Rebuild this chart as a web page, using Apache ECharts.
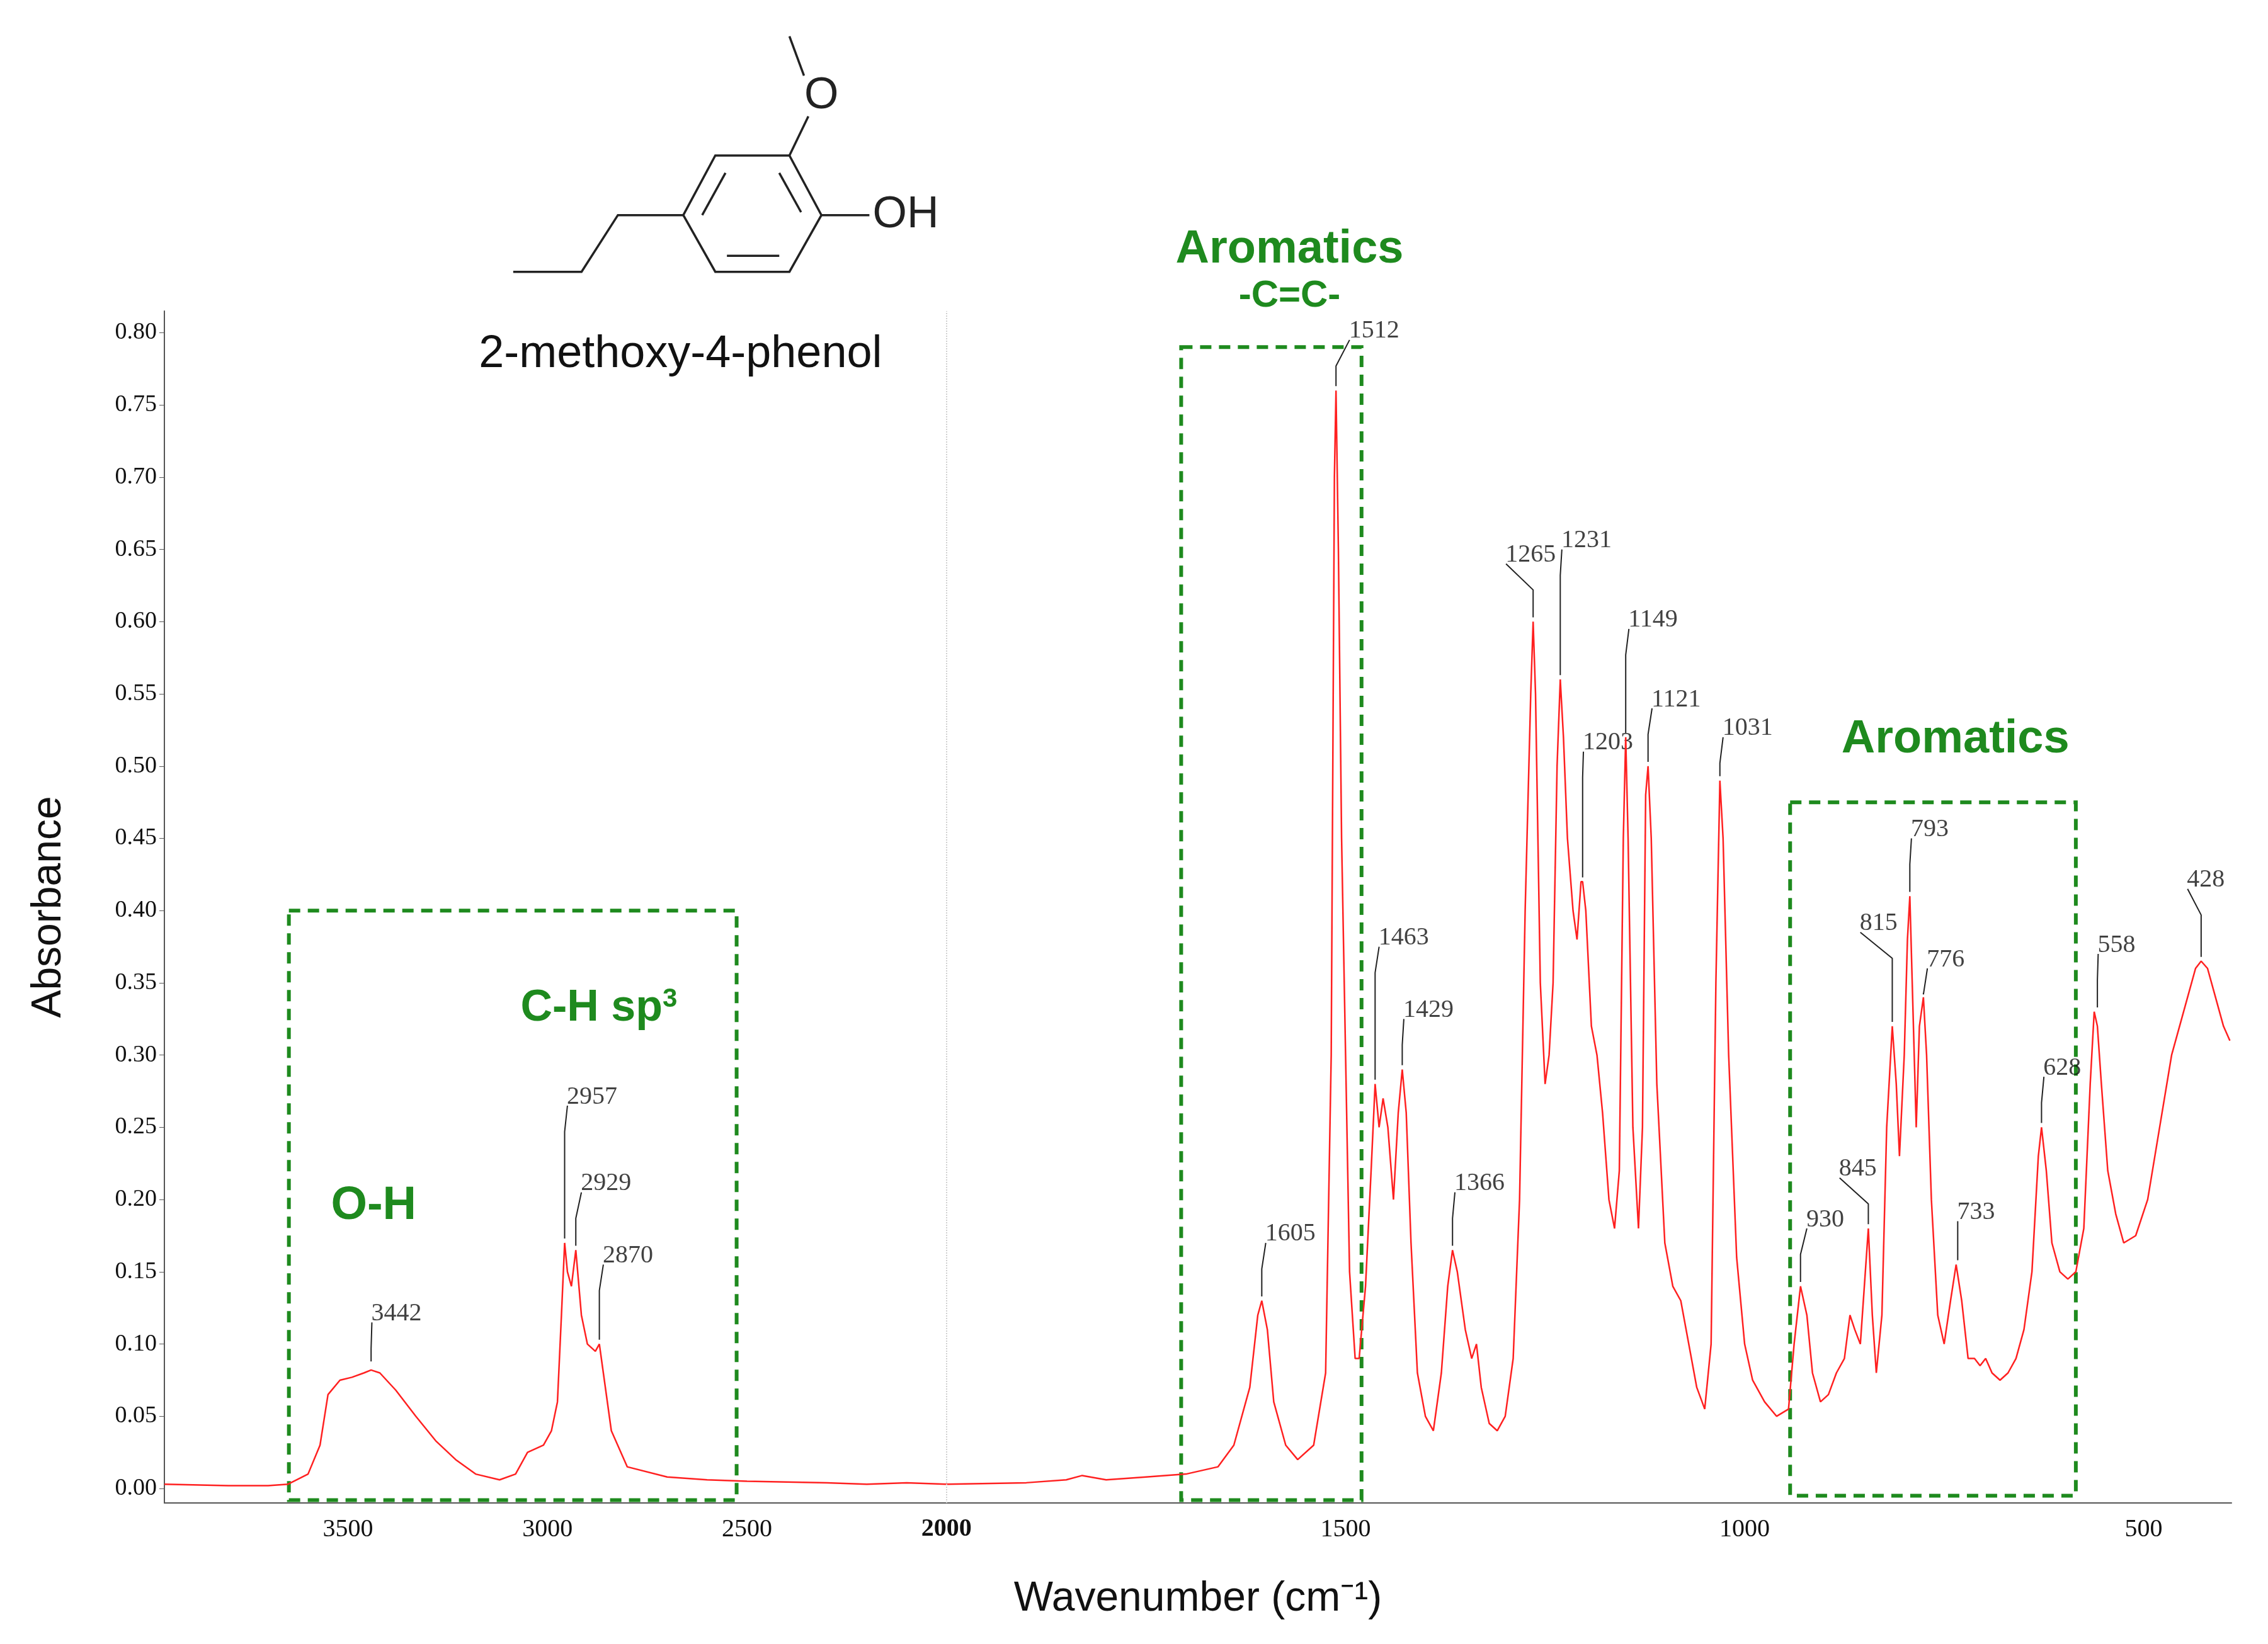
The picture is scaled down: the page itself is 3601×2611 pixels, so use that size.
<!DOCTYPE html>
<html>
<head>
<meta charset="utf-8">
<script src="https://cdn.jsdelivr.net/npm/echarts@6/dist/echarts.min.js"></script>
<style>html,body{margin:0;background:#fff}#main{width:3601px;height:2611px}</style>
</head>
<body>
<div id="main"></div>
<script>
// spectrum [wavenumber, absorbance]
var spectrum = [
[3960,0.003],[3800,0.002],[3700,0.002],[3650,0.003],[3600,0.01],[3570,0.03],[3550,0.065],[3520,0.075],[3490,0.077],[3460,0.08],[3442,0.082],[3420,0.08],[3380,0.068],[3330,0.05],[3280,0.033],[3230,0.02],[3180,0.01],[3120,0.006],[3080,0.01],[3050,0.025],[3010,0.03],[2990,0.04],[2975,0.06],[2965,0.12],[2957,0.17],[2950,0.15],[2940,0.14],[2929,0.165],[2915,0.12],[2900,0.10],[2880,0.095],[2870,0.10],[2860,0.08],[2840,0.04],[2800,0.015],[2700,0.008],[2600,0.006],[2500,0.005],[2300,0.004],[2200,0.003],[2100,0.004],[2000,0.003],[1900,0.004],[1850,0.006],[1830,0.009],[1800,0.006],[1750,0.008],[1700,0.01],[1660,0.015],[1640,0.03],[1620,0.07],[1610,0.12],[1605,0.13],[1598,0.11],[1590,0.06],[1575,0.03],[1560,0.02],[1540,0.03],[1525,0.08],[1518,0.3],[1514,0.70],[1512,0.76],[1509,0.65],[1505,0.45],[1500,0.30],[1495,0.15],[1488,0.09],[1483,0.09],[1475,0.14],[1468,0.22],[1463,0.28],[1458,0.25],[1453,0.27],[1447,0.25],[1440,0.2],[1434,0.26],[1429,0.29],[1424,0.26],[1418,0.17],[1410,0.08],[1400,0.05],[1390,0.04],[1380,0.08],[1372,0.14],[1366,0.165],[1360,0.15],[1350,0.11],[1342,0.09],[1336,0.10],[1330,0.07],[1320,0.045],[1310,0.04],[1300,0.05],[1290,0.09],[1282,0.2],[1275,0.4],[1268,0.55],[1265,0.60],[1262,0.55],[1256,0.35],[1250,0.28],[1245,0.30],[1240,0.35],[1235,0.50],[1231,0.56],[1227,0.52],[1222,0.45],[1215,0.40],[1210,0.38],[1205,0.42],[1203,0.42],[1199,0.40],[1192,0.32],[1185,0.30],[1178,0.26],[1170,0.20],[1163,0.18],[1157,0.22],[1152,0.45],[1149,0.52],[1146,0.45],[1140,0.25],[1133,0.18],[1128,0.25],[1124,0.48],[1121,0.50],[1117,0.45],[1110,0.28],[1100,0.17],[1090,0.14],[1080,0.13],[1070,0.10],[1060,0.07],[1050,0.055],[1042,0.10],[1036,0.35],[1031,0.49],[1027,0.45],[1020,0.30],[1010,0.16],[1000,0.10],[990,0.075],[975,0.06],[960,0.05],[945,0.055],[938,0.1],[930,0.14],[922,0.12],[915,0.08],[905,0.06],[895,0.065],[885,0.08],[875,0.09],[868,0.12],[862,0.11],[855,0.10],[850,0.14],[845,0.18],[840,0.12],[835,0.08],[828,0.12],[822,0.25],[815,0.32],[810,0.28],[806,0.23],[800,0.30],[796,0.38],[793,0.41],[790,0.35],[785,0.25],[781,0.32],[776,0.34],[772,0.30],[766,0.20],[758,0.12],[750,0.10],[742,0.13],[735,0.155],[728,0.13],[720,0.09],[712,0.09],[705,0.085],[698,0.09],[690,0.08],[680,0.075],[670,0.08],[660,0.09],[650,0.11],[640,0.15],[632,0.23],[628,0.25],[622,0.22],[615,0.17],[605,0.15],[595,0.145],[585,0.15],[575,0.18],[567,0.28],[562,0.33],[558,0.32],[553,0.28],[545,0.22],[535,0.19],[525,0.17],[510,0.175],[495,0.20],[480,0.25],[465,0.30],[445,0.34],[435,0.36],[428,0.365],[420,0.36],[410,0.34],[400,0.32],[392,0.31]
];
// peaks: [wavenumber, peak absorbance]
var peaks = [[3442,0.085],[2957,0.17],[2929,0.165],[2870,0.10],[1605,0.13],[1512,0.76],[1463,0.28],[1429,0.29],[1366,0.165],[1265,0.60],[1231,0.56],[1203,0.42],[1149,0.52],[1121,0.50],[1031,0.49],[930,0.14],[845,0.18],[815,0.32],[793,0.41],[776,0.34],[733,0.155],[628,0.25],[558,0.33],[428,0.365]];
// label anchor for each peak [wavenumber, absorbance]
var peakLabelAt = [[3440,0.115],[2950,0.265],[2915,0.205],[2860,0.155],[1600,0.17],[1495,0.795],[1458,0.375],[1427,0.325],[1363,0.205],[1299,0.64],[1229,0.65],[1202,0.51],[1145,0.595],[1116,0.54],[1027,0.52],[922,0.18],[881,0.215],[855,0.385],[791,0.45],[771,0.36],[733,0.185],[625,0.285],[557,0.37],[445,0.415]];
var xTickLabels = [3500,3000,2500,2000,1500,1000,500];
var yTicks = [0,0.05,0.1,0.15,0.2,0.25,0.3,0.35,0.4,0.45,0.5,0.55,0.6,0.65,0.7,0.75,0.8];

// axis is compressed 2x above 2000 cm-1
function u(w){ return w <= 2000 ? 2000 - w : -(w - 2000) / 2; }
function wOf(v){ return v <= 0 ? 2000 - v * 2 : 2000 - v; }

var S = 3601 / 1560;
var chart = echarts.init(document.getElementById('main'));
var serif = 'Liberation Serif';
var sans = 'Liberation Sans';
var green = '#1e8a1e';

var series = [{
  type: 'line', symbol: 'none', silent: true,
  lineStyle: {color: '#ff2020', width: 2.5},
  data: spectrum.map(function(p){ return [u(p[0]), p[1]]; }),
  markLine: {
    silent: true, symbol: 'none', label: {show: false},
    lineStyle: {color: '#d0d0d0', type: 'dotted', width: 2},
    data: [[{coord: [0, -0.01]}, {coord: [0, 0.815]}]]
  },
  markArea: {
    silent: true,
    itemStyle: {color: 'rgba(0,0,0,0)', borderColor: green, borderType: [18, 12], borderWidth: 6},
    data: [
      [{coord: [u(3648), 0.40]}, {coord: [u(2526), -0.008]}],
      [{coord: [u(1706), 0.79]}, {coord: [u(1480), -0.008]}],
      [{coord: [u(943), 0.475]}, {coord: [u(585), -0.005]}]
    ]
  }
}];

peaks.forEach(function(p, i){
  var t = peakLabelAt[i];
  series.push({
    type: 'line', symbol: 'none', silent: true, z: 3,
    lineStyle: {color: '#222', width: 2},
    data: [[u(p[0]), p[1] + 0.003], [u(p[0]), t[1] - 0.018], [u(t[0]), t[1]]]
  });
  series.push({
    type: 'scatter', symbolSize: 0.1, silent: true,
    data: [[u(t[0]), t[1]]],
    label: {show: true, position: 'right', offset: [-6, -14], formatter: String(p[0]),
      fontFamily: serif, fontSize: 40, color: '#111'}
  });
});

var mol = [
  [[353,187],[400,187],[425,148],[470,148]],
  [[470,148],[492,107],[543,107],[565,148],[543,187],[492,187],[470,148]],
  [[483,148],[499,119]], [[500,176],[536,176]], [[536,119],[551,146]],
  [[565,148],[598,148]],
  [[543,107],[556,80]], [[553,52],[543,25]]
];
var graphics = mol.map(function(pl){
  return {type: 'polyline', shape: {points: pl.map(function(q){ return [q[0]*S, q[1]*S]; })},
    style: {stroke: '#222', lineWidth: 3.5, fill: null}};
});
function txt(x, y, s, size, color, bold, fam){
  return {type: 'text', x: x*S, y: y*S, style: {text: s, fontSize: size, fill: color,
    fontWeight: bold ? 'bold' : 'normal', fontFamily: fam || sans, align: 'center', verticalAlign: 'middle'}};
}
graphics.push(txt(565, 66, 'O', 70, '#222'));
graphics.push(txt(623, 148, 'OH', 70, '#222'));
graphics.push(txt(468, 244, '2-methoxy-4-phenol', 72, '#111'));
graphics.push(txt(887, 172, 'Aromatics', 74, green, true));
graphics.push(txt(887, 204, '-C=C-', 60, green, true));
graphics.push(txt(1345, 509, 'Aromatics', 74, green, true));
graphics.push(txt(257, 830, 'O-H', 74, green, true));
graphics.push({type: 'text', x: 358*S, y: 694*S, style: {rich: {a: {fontSize: 70, fontWeight: 'bold', fill: green, fontFamily: sans}, b: {fontSize: 42, fontWeight: 'bold', fill: green, fontFamily: sans, verticalAlign: 'top', padding: [0,0,30,0]}}, text: '{a|C-H sp}{b|3}', verticalAlign: 'middle'}});

chart.setOption({
  backgroundColor: '#fff',
  animation: false,
  grid: {left: 261, right: 58, top: 494, bottom: 224},
  xAxis: {
    type: 'value', min: u(3960), max: u(390),
    name: 'Wavenumber (cm\u207B\u00B9)', nameLocation: 'middle', nameGap: 120,
    nameTextStyle: {fontFamily: sans, fontSize: 66, color: '#111'},
    axisLine: {onZero: false, lineStyle: {color: '#555', width: 2}},
    axisTick: {show: false},
    splitLine: {show: false},
    axisLabel: {customValues: xTickLabels.map(u), fontFamily: serif, fontSize: 40, color: '#111', margin: 22,
      formatter: function(v){ var w = Math.round(wOf(v)); return w === 2000 ? '{b|2000}' : String(w); },
      rich: {b: {fontWeight: 'bold', fontFamily: serif, fontSize: 40, color: '#111'}}}
  },
  yAxis: {
    type: 'value', min: -0.01, max: 0.815,
    name: 'Absorbance', nameLocation: 'middle', nameGap: 150, nameRotate: 90,
    nameTextStyle: {fontFamily: sans, fontSize: 66, color: '#111'},
    axisLine: {show: true, onZero: false, lineStyle: {color: '#555', width: 2}},
    axisTick: {show: true, inside: false, length: 8, customValues: yTicks, lineStyle: {color: '#555'}},
    splitLine: {show: false},
    axisLabel: {customValues: yTicks, fontFamily: serif, fontSize: 38, color: '#111', margin: 12,
      formatter: function(v){ return v.toFixed(2); }}
  },
  graphic: graphics,
  series: series
});
</script>
</body>
</html>
